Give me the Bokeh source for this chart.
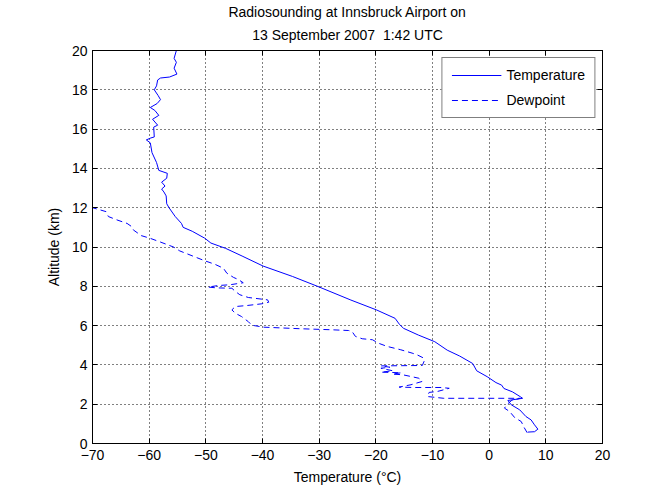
from bokeh.plotting import figure
from bokeh.models import LinearAxis, FixedTicker, Legend, LegendItem, Range1d, Title, CustomJSTickFormatter
from bokeh.embed import file_html
from bokeh.resources import INLINE

# ---- data ----
temp_c = [6.8, 8.0, 8.6, 8.0, 7.4, 6.5, 5.4, 3.9, 3.3, 5.9, 5.5, 4.1, 2.6, 2.2, 1.2, -0.35, -2.2,
          -2.9, -5.2, -7.4, -9.6, -12.5, -15.1, -15.8, -16.6, -19.9, -24.4, -30.3, -34.7, -39.9,
          -43.6, -46.5, -49.1, -50.2, -52.4, -54.0, -54.3, -55.4, -56.5, -56.9, -57.0, -57.4,
          -57.8, -57.2, -57.8, -56.9, -56.8, -58.3, -58.7, -59.5, -59.8, -60.5, -59.7, -59.1,
          -59.2, -58.5, -59.4, -58.3, -59.0, -59.8, -58.6, -58.0, -58.4, -59.1, -58.7, -58.5,
          -58.0, -56.4, -55.1, -55.6, -55.2, -55.6, -55.2]
temp_alt = [0.58, 0.6, 0.73, 0.95, 1.2, 1.37, 1.71, 1.97, 2.19, 2.3, 2.38, 2.63, 2.8, 2.97, 3.1,
            3.4, 3.7, 4.07, 4.45, 4.75, 5.18, 5.52, 5.86, 6.05, 6.37, 6.8, 7.3, 8.0, 8.5, 9.03,
            9.54, 9.93, 10.2, 10.45, 10.8, 11.0, 11.2, 11.55, 12.0, 12.2, 12.6, 12.8, 12.95,
            13.1, 13.3, 13.5, 13.75, 13.9, 14.3, 14.8, 15.3, 15.45, 15.55, 15.6, 16.1, 16.2,
            16.5, 16.7, 16.95, 17.1, 17.3, 17.5, 17.7, 18.0, 18.2, 18.5, 18.6, 18.65, 18.8,
            19.1, 19.4, 19.6, 20.0]

dew_c = [6.7, 6.2, 5.65, 4.5, 3.6, 2.7, 3.2, 4.0, 5.5, 0.0, -8.0, -10.9, -10.6, -9.1, -7.05,
         -8.5, -13.2, -15.9, -13.8, -11.8, -12.4, -13.8, -15.3, -17.1, -15.5, -19.1, -17.0,
         -19.1, -17.5, -19.1, -11.8, -11.5, -11.5, -12.7, -13.6, -15.6, -18.0, -19.5, -20.6,
         -22.4, -23.6, -24.2, -24.8, -28.0, -33.3, -39.8, -41.9, -42.5, -43.7, -44.8, -45.4,
         -44.8, -42.8, -40.1, -38.9, -39.1, -42.5, -44.0, -44.8, -45.4, -48.1, -49.6, -47.8,
         -45.7, -43.4, -44.3, -45.1, -46.3, -46.9, -48.4, -50.2, -52.4, -54.6, -55.7, -58.0,
         -59.8, -61.4, -62.8, -63.1, -63.9, -65.7, -67.2, -67.6, -68.8, -70.0]
dew_alt = [0.55, 0.8, 1.12, 1.32, 1.63, 1.8, 2.0, 2.2, 2.3, 2.3, 2.3, 2.39, 2.6, 2.65, 2.81,
           2.85, 2.85, 2.87, 2.99, 3.16, 3.32, 3.41, 3.5, 3.53, 3.6, 3.63, 3.7, 3.83, 3.88,
           3.95, 3.97, 4.17, 4.34, 4.51, 4.6, 4.77, 4.94, 5.1, 5.28, 5.33, 5.45, 5.7, 5.75,
           5.79, 5.84, 5.92, 6.02, 6.2, 6.46, 6.63, 6.8, 6.97, 7.02, 7.11, 7.19, 7.31, 7.43,
           7.57, 7.74, 7.9, 7.92, 7.96, 8.04, 8.08, 8.18, 8.35, 8.45, 8.67, 8.92, 9.12, 9.3,
           9.55, 9.8, 10.0, 10.25, 10.44, 10.58, 10.87, 11.04, 11.2, 11.38, 11.55, 11.8, 11.9,
           12.0]

x_ticks = [-70, -60, -50, -40, -30, -20, -10, 0, 10, 20]
y_ticks = [0, 2, 4, 6, 8, 10, 12, 14, 16, 18, 20]

title_lines = ["Radiosounding at Innsbruck Airport on", "13 September 2007\u00a0 1:42 UTC"]
x_label = "Temperature (\u00b0C)"
y_label = "Altitude (km)"
series_names = ["Temperature", "Dewpoint"]

FONT = "Liberation Sans"

p = figure(width=655, height=493, output_backend="svg", toolbar_location=None,
           x_range=Range1d(-70, 20), y_range=Range1d(0, 20),
           min_border_left=92, min_border_right=53, min_border_top=50, min_border_bottom=50)
p.background_fill_color = "white"
p.border_fill_color = "white"
p.outline_line_color = "black"
p.outline_line_width = 1

for ax in p.xaxis:
    ax.ticker = FixedTicker(ticks=x_ticks)
for ax in p.yaxis:
    ax.ticker = FixedTicker(ticks=y_ticks)

def style_axis(ax):
    ax.axis_line_color = "black"
    ax.major_tick_line_color = "black"
    ax.major_tick_in = 5
    ax.major_tick_out = 0
    ax.minor_tick_line_color = None
    ax.major_label_text_font = FONT
    ax.major_label_text_font_size = "14px"
    ax.major_label_text_color = "black"
    ax.axis_label_text_font = FONT
    ax.axis_label_text_font_size = "14px"
    ax.axis_label_text_font_style = "normal"
    ax.axis_label_text_color = "black"

style_axis(p.xaxis[0])
style_axis(p.yaxis[0])
p.xaxis[0].axis_label = x_label
p.yaxis[0].axis_label = y_label
p.xaxis[0].major_label_standoff = 6
p.xaxis[0].axis_label_standoff = 6
p.yaxis[0].major_label_standoff = 5
p.yaxis[0].axis_label_standoff = 7

blank = CustomJSTickFormatter(code="return ''")
top_ax = LinearAxis(ticker=FixedTicker(ticks=x_ticks), formatter=blank)
right_ax = LinearAxis(ticker=FixedTicker(ticks=y_ticks), formatter=blank)
for ax in (top_ax, right_ax):
    style_axis(ax)
    ax.major_label_standoff = 0
p.add_layout(top_ax, "above")
p.add_layout(right_ax, "right")

# two centred title lines (the later one sits higher)
t2 = Title(text=title_lines[1], align="center", text_font=FONT, text_font_size="14px",
           text_font_style="normal", text_color="black", standoff=15, offset=0)
t1 = Title(text=title_lines[0], align="center", text_font=FONT, text_font_size="14px",
           text_font_style="normal", text_color="black", standoff=-4, offset=0)
p.add_layout(t2, "above")
p.add_layout(t1, "above")

p.grid.grid_line_color = "black"
p.grid.grid_line_dash = "1 3"
p.grid.grid_line_width = 1
p.xgrid.ticker = FixedTicker(ticks=x_ticks)
p.ygrid.ticker = FixedTicker(ticks=y_ticks)

r_t = p.line(temp_c, temp_alt, line_color="#0000ff", line_width=1)
r_d = p.line(dew_c, dew_alt, line_color="#0000ff", line_width=1, line_dash="6 4")

legend = Legend(items=[LegendItem(label=series_names[0], renderers=[r_t]),
                       LegendItem(label=series_names[1], renderers=[r_d])],
                location="top_right")
legend.label_text_font = FONT
legend.label_text_font_size = "14px"
legend.label_text_color = "black"
legend.border_line_color = "black"
legend.border_line_width = 1
legend.padding = 9
legend.spacing = 9
legend.glyph_width = 50
legend.glyph_height = 12
legend.label_standoff = 5
legend.label_height = 12
legend.margin = 7
legend.background_fill_alpha = 1
p.add_layout(legend)

open("out.html", "w").write(file_html(p, INLINE))
